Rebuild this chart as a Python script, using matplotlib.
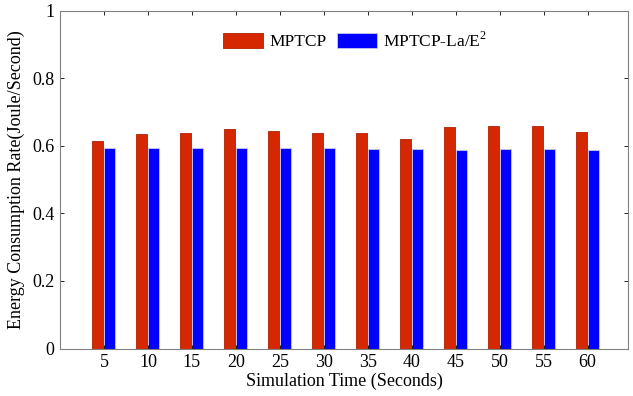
import matplotlib
matplotlib.use("Agg")
import matplotlib.pyplot as plt
import numpy as np

times = [5, 10, 15, 20, 25, 30, 35, 40, 45, 50, 55, 60]
mptcp = [0.614, 0.635, 0.638, 0.650, 0.644, 0.638, 0.638, 0.620, 0.656, 0.659, 0.659, 0.641]
mptcp_la = [0.594, 0.594, 0.594, 0.594, 0.594, 0.594, 0.591, 0.591, 0.588, 0.591, 0.591, 0.588]
labels = ["MPTCP", "MPTCP-La/E$^2$"]

plt.rcParams['font.family'] = ['Liberation Serif', 'DejaVu Serif']
plt.rcParams['mathtext.fontset'] = 'custom'
plt.rcParams['mathtext.rm'] = 'Liberation Serif'

fig = plt.figure(figsize=(6.33, 3.96), dpi=100)
ax = fig.add_axes([60/633, 1 - 348.5/396, 568/633, 338/396])

x = np.array(times, dtype=float)
w = 1.25
ax.bar(x - 0.73, mptcp, width=w, color='#D62800', edgecolor='#B02000', linewidth=0.6, label=labels[0])
ax.bar(x + 0.68, mptcp_la, width=w, color='#0000FF', edgecolor='#C8C8F0', linewidth=0.6, label=labels[1])

ax.set_xlim(0, 64.6)
ax.set_ylim(0, 1)
ax.set_xticks(times)
ax.set_yticks([0, 0.2, 0.4, 0.6, 0.8, 1])
ax.set_yticklabels(['0', '0.2', '0.4', '0.6', '0.8', '1'])
ax.tick_params(direction='in', top=True, right=True, labelsize=13, length=3, width=0.6,
               color='black', pad=4)
for s in ax.spines.values():
    s.set_color('#808080')
    s.set_linewidth(0.8)

ax.set_xlabel('Simulation Time (Seconds)', fontsize=13, labelpad=1)
ax.set_ylabel('Energy Consumption Rate(Joule/Second)', fontsize=13, labelpad=5)

ax.legend(loc='upper center', bbox_to_anchor=(0.52, 0.985), ncol=2, frameon=False, fontsize=12.5,
          handlelength=2.3, handleheight=0.95, columnspacing=0.6, handletextpad=0.35)

fig.savefig('out.png', dpi=100)
